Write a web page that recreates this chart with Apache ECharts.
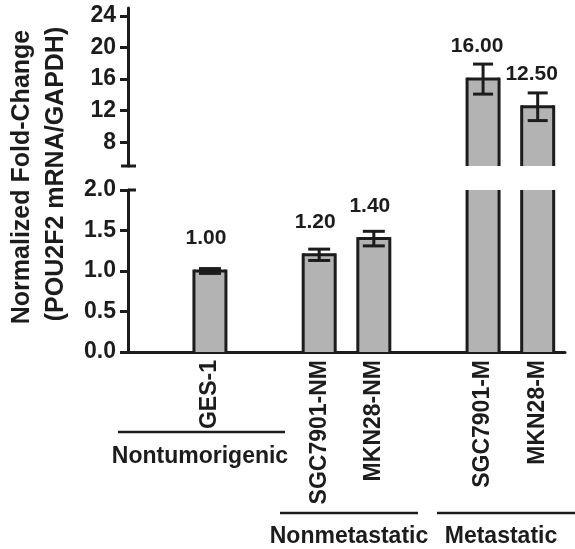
<!DOCTYPE html>
<html>
<head>
<meta charset="utf-8">
<script src="https://cdn.jsdelivr.net/npm/echarts@6/dist/echarts.min.js"></script>
<style>
  html, body { margin: 0; padding: 0; background: #ffffff; }
  #chart { width: 575px; height: 549px; }
</style>
</head>
<body>
<div id="chart"></div>
<script>
// ---- data ----
const categories = ['GES-1', 'SGC7901-NM', 'MKN28-NM', 'SGC7901-M', 'MKN28-M'];
const axisSlots = ['', 'GES-1', '', 'SGC7901-NM', 'MKN28-NM', '', 'SGC7901-M', 'MKN28-M'];
const foldChange = [1.00, 1.20, 1.40, 16.00, 12.50];
const errorSEM = [0.03, 0.07, 0.09, 1.9, 1.75];
const upperTicks = [8, 12, 16, 20, 24];
const lowerTicks = [0, 0.5, 1.0, 1.5, 2.0];
const groupNames = ['Nontumorigenic', 'Nonmetastatic', 'Metastatic'];

// ---- build ----
const FONT = '"Liberation Sans", Arial, Helvetica, sans-serif';
const INK = '#1c1c1c';
const upperMin = 5, upperMax = 25;
const lowerMin = 0, lowerMax = 2;
const BAR_W = 32;

const slotValue = axisSlots.map(n => {
  const i = categories.indexOf(n);
  return i >= 0 ? foldChange[i] : null;
});
const slotErr = axisSlots.map(n => {
  const i = categories.indexOf(n);
  return i >= 0 ? errorSEM[i] : null;
});

const labelStyle = {
  show: true, position: 'top', distance: 22, offset: [-4, 0],
  fontFamily: FONT, fontWeight: 'bold', fontSize: 21, color: INK,
  formatter: p => Number(p.value).toFixed(2)
};

const upperBars = slotValue.map(v => (v != null && v > upperMin) ? { value: v } : null);
const lowerBars = slotValue.map(v => v == null ? null :
  { value: v, label: { show: v <= lowerMax } });

const outlineData = slotValue.map((v, i) => v != null ? [i, v, slotErr[i]] : null).filter(d => d);

function outlineRender(lo, hi, capHalf) {
  return function (params, api) {
    const x = api.value(0), v = api.value(1), e = api.value(2);
    const cs = params.coordSys;
    const yTop = cs.y;
    if (v <= lo) return null;
    const cx = api.coord([x, lo])[0];
    const vy = Math.max(yTop, api.coord([x, Math.min(v, hi)])[1]);
    const by = api.coord([x, Math.max(0, lo)])[1];
    const hw = BAR_W / 2;
    const st = { stroke: INK, lineWidth: 3 };
    const kids = [
      { type: 'line', shape: { x1: cx - hw, y1: vy - (v <= hi ? 1.5 : 0), x2: cx - hw, y2: by }, style: st },
      { type: 'line', shape: { x1: cx + hw, y1: vy - (v <= hi ? 1.5 : 0), x2: cx + hw, y2: by }, style: st }
    ];
    if (v <= hi) {
      kids.push({ type: 'line', shape: { x1: cx - hw, y1: vy, x2: cx + hw, y2: vy }, style: st });
      const t = api.coord([x, v + e]);
      const b = api.coord([x, v - e]);
      kids.push(
        { type: 'line', shape: { x1: t[0], y1: t[1], x2: b[0], y2: b[1] }, style: st },
        { type: 'line', shape: { x1: t[0] - capHalf, y1: t[1], x2: t[0] + capHalf, y2: t[1] }, style: st },
        { type: 'line', shape: { x1: b[0] - capHalf, y1: b[1], x2: b[0] + capHalf, y2: b[1] }, style: st }
      );
    }
    return { type: 'group', children: kids };
  };
}

const gridLeft = 128, gridRight = 10;
const upperTop = 8, upperH = 158;
const lowerTop = 190, lowerH = 162;

const axisLineStyle = { color: INK, width: 3 };
const tickLabel = { fontFamily: FONT, fontWeight: 'bold', fontSize: 23, color: INK, margin: 12 };

const option = {
  animation: false,
  backgroundColor: '#ffffff',
  grid: [
    { left: gridLeft, right: gridRight, top: upperTop, height: upperH },
    { left: gridLeft, right: gridRight, top: lowerTop, height: lowerH }
  ],
  xAxis: [
    { type: 'category', gridIndex: 0, data: axisSlots, show: false },
    {
      type: 'category', gridIndex: 1, data: axisSlots,
      axisLine: { show: true, lineStyle: axisLineStyle },
      axisTick: { show: false },
      axisLabel: {
        rotate: 90, interval: 0, margin: 8,
        fontFamily: FONT, fontWeight: 'bold', fontSize: 23, color: INK
      }
    }
  ],
  yAxis: [
    {
      type: 'value', gridIndex: 0, min: upperMin, max: upperMax,
      axisLine: { show: true, lineStyle: axisLineStyle },
      axisTick: { show: true, length: 8, lineStyle: { color: INK, width: 3 }, customValues: upperTicks },
      axisLabel: Object.assign({ customValues: upperTicks }, tickLabel),
      splitLine: { show: false }
    },
    {
      type: 'value', gridIndex: 1, min: lowerMin, max: lowerMax, interval: 0.5,
      axisLine: { show: true, lineStyle: axisLineStyle },
      axisTick: { show: true, length: 8, lineStyle: { color: INK, width: 3 } },
      axisLabel: Object.assign({ formatter: v => v.toFixed(1) }, tickLabel),
      splitLine: { show: false }
    }
  ],
  series: [
    {
      type: 'bar', xAxisIndex: 0, yAxisIndex: 0, data: upperBars, barWidth: BAR_W,
      itemStyle: { color: '#b3b3b3', borderWidth: 0 },
      label: Object.assign({}, labelStyle, { offset: [-6, 0] })
    },
    {
      type: 'custom', xAxisIndex: 0, yAxisIndex: 0,
      data: outlineData, renderItem: outlineRender(upperMin, upperMax, 10), z: 3
    },
    {
      type: 'bar', xAxisIndex: 1, yAxisIndex: 1, data: lowerBars, barWidth: BAR_W,
      itemStyle: { color: '#b3b3b3', borderWidth: 0 },
      label: labelStyle
    },
    {
      type: 'custom', xAxisIndex: 1, yAxisIndex: 1,
      data: outlineData, renderItem: outlineRender(lowerMin, lowerMax, 11), z: 3
    }
  ],
  graphic: [
    // axis break caps
    { type: 'line', shape: { x1: 121, y1: upperTop + upperH, x2: 136, y2: upperTop + upperH },
      style: { stroke: INK, lineWidth: 3 } },
    { type: 'line', shape: { x1: 128, y1: lowerTop, x2: 136, y2: lowerTop },
      style: { stroke: INK, lineWidth: 3 } },
    // y-axis title
    { type: 'text', x: 22, y: 177, rotation: Math.PI / 2,
      style: { text: 'Normalized Fold-Change', font: 'bold 25px ' + FONT, fill: INK, align: 'center', verticalAlign: 'middle' } },
    { type: 'text', x: 56, y: 174, rotation: Math.PI / 2,
      style: { text: '(POU2F2 mRNA/GAPDH)', font: 'bold 25px ' + FONT, fill: INK, align: 'center', verticalAlign: 'middle' } },
    // group brackets
    { type: 'line', shape: { x1: 118, y1: 432, x2: 285, y2: 432 }, style: { stroke: INK, lineWidth: 2.5 } },
    { type: 'line', shape: { x1: 280, y1: 513, x2: 418, y2: 513 }, style: { stroke: INK, lineWidth: 2.5 } },
    { type: 'line', shape: { x1: 437, y1: 513, x2: 575, y2: 513 }, style: { stroke: INK, lineWidth: 2.5 } },
    { type: 'text', x: 200, y: 457,
      style: { text: groupNames[0], font: 'bold 23px ' + FONT, fill: INK, align: 'center', verticalAlign: 'middle' } },
    { type: 'text', x: 349, y: 537,
      style: { text: groupNames[1], font: 'bold 23px ' + FONT, fill: INK, align: 'center', verticalAlign: 'middle' } },
    { type: 'text', x: 501, y: 537,
      style: { text: groupNames[2], font: 'bold 23px ' + FONT, fill: INK, align: 'center', verticalAlign: 'middle' } }
  ]
};

const chart = echarts.init(document.getElementById('chart'), null, { renderer: 'canvas' });
chart.setOption(option);
</script>
</body>
</html>
